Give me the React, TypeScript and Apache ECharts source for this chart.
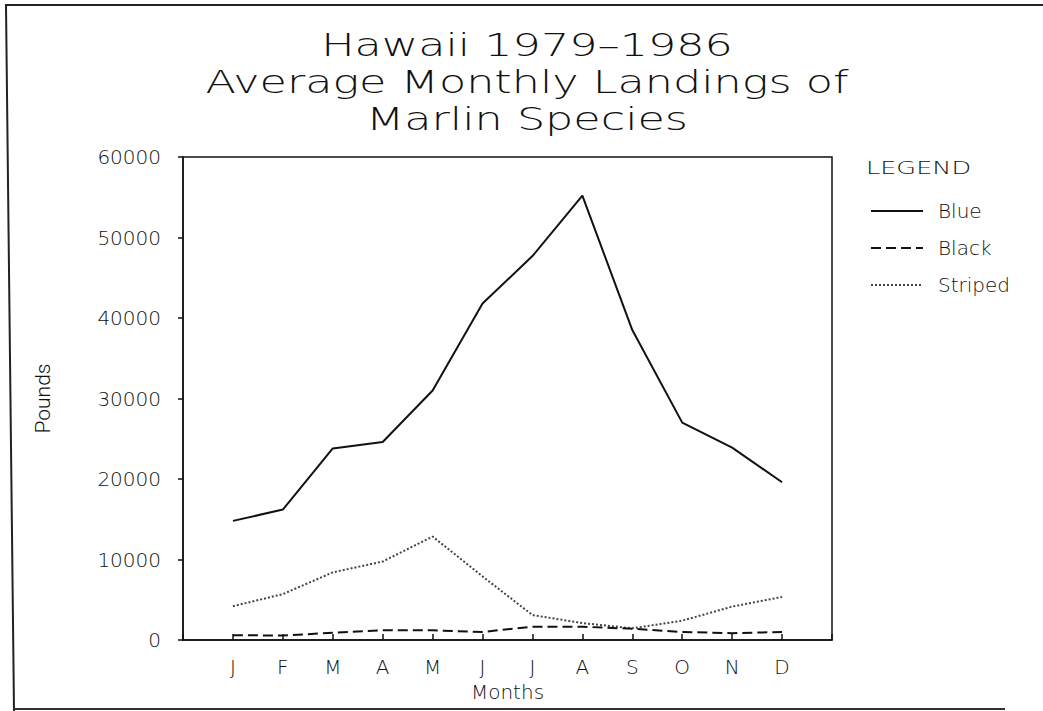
import React, { useEffect, useRef } from "react";
import * as echarts from "echarts";

const titleLines = ["Hawaii 1979–1986", "Average Monthly Landings of", "Marlin Species"];
const months = ["J", "F", "M", "A", "M", "J", "J", "A", "S", "O", "N", "D"];
const yTicks = [0, 10000, 20000, 30000, 40000, 50000, 60000];
const seriesNames = ["Blue", "Black", "Striped"];
const blueValues = [14800, 16200, 23800, 24600, 31000, 41800, 47700, 55200, 38500, 27000, 23900, 19600];
const blackValues = [600, 550, 900, 1200, 1200, 1000, 1650, 1650, 1400, 1000, 850, 1000];
const stripedValues = [4200, 5700, 8400, 9750, 12850, 7900, 3100, 2100, 1450, 2400, 4150, 5350];

const FONT = "DejaVu Sans";
const W = 200;
const INK = "#111";

export default function App() {
  const ref = useRef<HTMLDivElement>(null);

  useEffect(() => {
    if (!ref.current) return;
    const chart = echarts.init(ref.current, null, { renderer: "svg" });
    const toPoints = (vals: number[]) => vals.map((v, i) => [i + 1, v]);
    const lineStyles = [
      { color: INK, width: 2, type: "solid" as const },
      { color: INK, width: 2, type: [10, 5] as number[] },
      { color: "#444", width: 2, type: [2, 2] as number[] },
    ];
    const data = [blueValues, blackValues, stripedValues];

    chart.setOption({
      animation: false,
      backgroundColor: "#fff",
      textStyle: { fontFamily: FONT, color: INK },
      grid: {
        left: 183,
        right: 1043 - 832,
        top: 157,
        bottom: 711 - 640,
        show: true,
        borderColor: INK,
        borderWidth: 1.5,
      },
      legend: {
        orient: "vertical",
        left: 865,
        top: 196,
        itemWidth: 52,
        itemHeight: 14,
        itemGap: 17,
        data: seriesNames,
        itemStyle: { opacity: 0 },
        textStyle: { fontFamily: FONT, fontWeight: W, fontSize: 20, color: INK, padding: [0, 0, 0, 10] },
        selectedMode: false,
      },
      xAxis: {
        type: "value",
        min: 0,
        max: 13,
        interval: 1,
        name: "Months",
        nameLocation: "middle",
        nameGap: 42,
        nameTextStyle: { fontFamily: FONT, fontWeight: W, fontSize: 20, color: INK },
        axisLine: { show: true, lineStyle: { color: INK, width: 1.5 } },
        axisTick: { show: true, inside: true, length: 6, lineStyle: { color: INK, width: 1.5 } },
        axisLabel: {
          margin: 17,
          fontFamily: FONT,
          fontWeight: W,
          fontSize: 20,
          color: INK,
          formatter: (v: number) => months[v - 1] ?? "",
        },
        splitLine: { show: false },
      },
      yAxis: {
        type: "value",
        min: yTicks[0],
        max: yTicks[yTicks.length - 1],
        interval: yTicks[1] - yTicks[0],
        name: "Pounds",
        nameLocation: "middle",
        nameRotate: 90,
        nameGap: 130,
        nameTextStyle: { fontFamily: "Roboto", fontWeight: 300, fontSize: 21, color: INK },
        axisLine: { show: true, lineStyle: { color: INK, width: 1.5 } },
        axisTick: { show: true, length: 5, lineStyle: { color: INK, width: 1.5 } },
        axisLabel: {
          margin: 22,
          fontFamily: FONT,
          fontWeight: W,
          fontSize: 20,
          color: INK,
          formatter: (v: number) => String(v),
        },
        splitLine: { show: false },
      },
      series: seriesNames.map((name, k) => ({
        name,
        type: "line",
        symbol: "none",
        data: toPoints(data[k]),
        lineStyle: lineStyles[k],
        itemStyle: { color: lineStyles[k].color },
        z: 3 - k,
      })),
      graphic: [
        ...titleLines.map((t, i) => ({
          type: "text",
          x: 527,
          y: 45 + i * 37,
          scaleX: 1.39,
          style: {
            text: t,
            fontFamily: FONT,
            fontWeight: W,
            fontSize: 32,
            fill: INK,
            align: "center",
            verticalAlign: "middle",
          },
        })),
        {
          type: "text",
          x: 866,
          y: 167,
          scaleX: 1.42,
          style: {
            text: "LEGEND",
            fontFamily: FONT,
            fontWeight: W,
            fontSize: 18,
            fill: INK,
            align: "left",
            verticalAlign: "middle",
          },
        },
        {
          type: "polyline",
          shape: { points: [[1043, 5], [6, 5], [14, 711]] },
          style: { stroke: "#222", lineWidth: 2, fill: null },
        },
        {
          type: "line",
          shape: { x1: 14, y1: 709, x2: 1005, y2: 709 },
          style: { stroke: "#333", lineWidth: 2 },
        },
      ],
    });

    return () => chart.dispose();
  }, []);

  return (
    <div
      ref={ref}
      style={{ position: "fixed", left: 0, top: 0, width: 1043, height: 711 }}
    />
  );
}
